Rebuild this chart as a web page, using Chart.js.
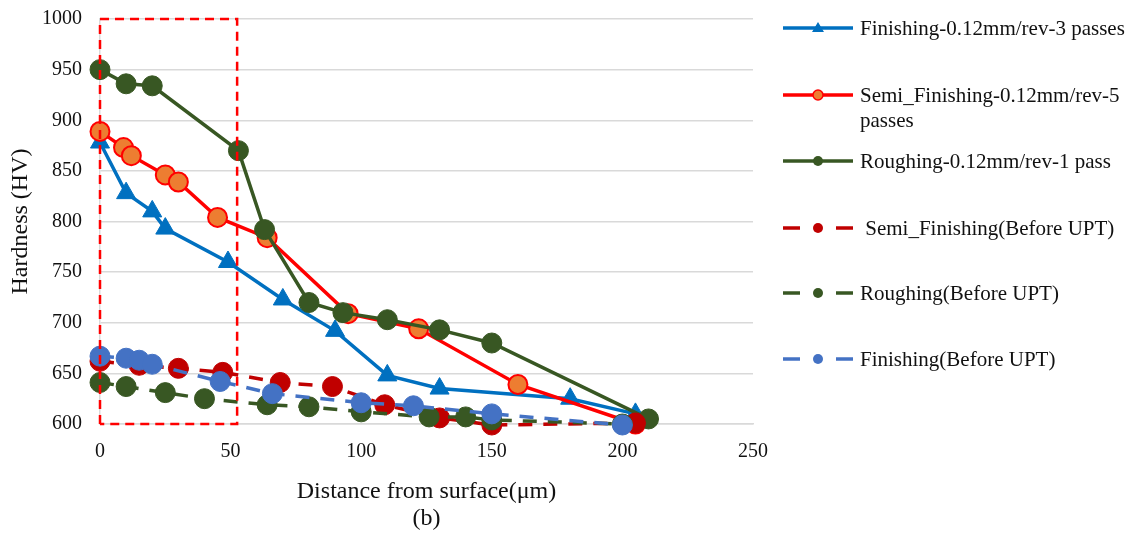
<!DOCTYPE html>
<html>
<head>
<meta charset="utf-8">
<script src="https://cdn.jsdelivr.net/npm/chart.js@4/dist/chart.umd.min.js"></script>
<style>
  body { margin: 0; background: #fff; }
  #wrap { position: relative; width: 1138px; height: 533px; }
  #legend { position: absolute; left: 0; top: 0; font-family: "Liberation Serif", serif; font-size: 21px; color: #111; }
  .item { position: absolute; left: 783px; }
  .item svg { position: absolute; left: 0; }
  .item span { position: absolute; left: 77px; white-space: nowrap; line-height: 25px; }
</style>
</head>
<body>
<div id="wrap">
  <canvas id="c" width="1138" height="533"></canvas>
  <div id="legend"></div>
</div>
<script>
// distances (µm) and hardness (HV)
const finX = [0, 10, 20, 25, 49, 70, 90, 110, 130, 180, 205];
const finY = [878, 828, 810, 793, 760, 723, 692, 648, 635, 625, 610];
const semiX = [0, 9, 12, 25, 30, 45, 64, 95, 122, 160, 205];
const semiY = [889, 873, 865, 846, 839, 804, 784, 709, 694, 639, 600];
const roughX = [0, 10, 20, 53, 63, 80, 93, 110, 130, 150, 210];
const roughY = [950, 936, 934, 870, 792, 720, 710, 703, 693, 680, 605];
const semiBeforeX = [0, 15, 30, 47, 69, 89, 109, 130, 150, 205];
const semiBeforeY = [662, 658, 655, 651, 641, 637, 619, 606, 599, 601];
const roughBeforeX = [0, 10, 25, 40, 64, 80, 100, 126, 140, 150, 200];
const roughBeforeY = [641, 637, 631, 625, 619, 617, 612, 607, 607, 604, 600];
const finBeforeX = [0, 10, 15, 20, 46, 66, 100, 120, 150, 200];
const finBeforeY = [667, 665, 663, 659, 642, 630, 621, 618, 610, 599];
// highlighted zone (dashed box)
const boxX = [0, 52.5];
const boxY = [600, 1000];

const xTicks = [0, 50, 100, 150, 200, 250];
const yTicks = [600, 650, 700, 750, 800, 850, 900, 950, 1000];

const seriesNames = [
    'Finishing-0.12mm/rev-3 passes',
    'Semi_Finishing-0.12mm/rev-5 passes',
    'Roughing-0.12mm/rev-1 pass',
    ' Semi_Finishing(Before UPT)',
    'Roughing(Before UPT)',
    'Finishing(Before UPT)'
];

function pts(xs, ys) {
    return xs.map((x, i) => ({ x: x, y: ys[i] }));
}

const FONT = 'Liberation Serif';

const datasets = [
    { label: seriesNames[0], data: pts(finX, finY), borderColor: '#0070C0', backgroundColor: '#0070C0',
      pointStyle: 'triangle', pointRadius: 11, borderWidth: 3.5, pointBorderWidth: 1, order: 6 },
    { label: seriesNames[1], data: pts(semiX, semiY), borderColor: '#FF0000', backgroundColor: '#ED7D31',
      pointBorderColor: '#FF0000', pointStyle: 'circle', pointRadius: 9.5, borderWidth: 3.5, pointBorderWidth: 2, order: 5 },
    { label: seriesNames[2], data: pts(roughX, roughY), borderColor: '#385723', backgroundColor: '#385723',
      pointStyle: 'circle', pointRadius: 10, borderWidth: 3.5, pointBorderWidth: 1, order: 4 },
    { label: seriesNames[3], data: pts(semiBeforeX, semiBeforeY), borderColor: '#C00000', backgroundColor: '#C00000',
      pointStyle: 'circle', pointRadius: 10, borderWidth: 3.5, borderDash: [14, 11], pointBorderWidth: 1, order: 3 },
    { label: seriesNames[4], data: pts(roughBeforeX, roughBeforeY), borderColor: '#385723', backgroundColor: '#385723',
      pointStyle: 'circle', pointRadius: 10, borderWidth: 3.5, borderDash: [14, 11], pointBorderWidth: 1, order: 2 },
    { label: seriesNames[5], data: pts(finBeforeX, finBeforeY), borderColor: '#4472C4', backgroundColor: '#4472C4',
      pointStyle: 'circle', pointRadius: 10, borderWidth: 3.5, borderDash: [14, 11], pointBorderWidth: 1, order: 1 },
    { label: 'box', data: [
        { x: boxX[0], y: boxY[0] }, { x: boxX[0], y: boxY[1] }, { x: boxX[1], y: boxY[1] },
        { x: boxX[1], y: boxY[0] }, { x: boxX[0], y: boxY[0] }],
      borderColor: '#FF0000', borderWidth: 2.5, borderDash: [9, 6], pointRadius: 0, order: 0 }
];
datasets.forEach(d => { d.tension = 0; d.fill = false; d.clip = false; });

new Chart(document.getElementById('c').getContext('2d'), {
    type: 'line',
    data: { datasets: datasets },
    options: {
        responsive: false,
        animation: false,
        layout: { autoPadding: false, padding: { top: 19, right: 385, left: 0, bottom: 0 } },
        plugins: { legend: { display: false }, tooltip: { enabled: false } },
        scales: {
            x: {
                type: 'linear', min: 0, max: 250,
                afterBuildTicks: s => { s.ticks = xTicks.map(v => ({ value: v })); },
                afterFit: s => { s.height = 109; },
                grid: { display: false, drawTicks: false },
                border: { display: true, color: '#d9d9d9', width: 1.5 },
                ticks: { padding: 16, color: '#111', font: { family: FONT, size: 20 }, callback: v => String(v) },
                title: { display: true, text: ['Distance from surface(\u03bcm)', '(b)'], color: '#111',
                         font: { family: FONT, size: 24, lineHeight: 1.125 }, padding: { top: 0, bottom: 1 } }
            },
            y: {
                min: 600, max: 1000,
                afterBuildTicks: s => { s.ticks = yTicks.map(v => ({ value: v })); },
                // tick padding would otherwise push the plot top down
                afterFit: s => { s.width = 100; s.paddingTop = 0; s.paddingBottom = 0; },
                grid: { color: '#d9d9d9', lineWidth: 1.5, drawTicks: false },
                border: { display: true, color: '#d9d9d9', width: 1.5 },
                ticks: { padding: 18, color: '#111', font: { family: FONT, size: 20 }, callback: v => String(v) },
                title: { display: true, text: 'Hardness (HV)', color: '#111',
                         font: { family: FONT, size: 24, lineHeight: 1.2 }, padding: { top: 6, bottom: 0 } }
            }
        }
    }
});

// legend on the right, built by hand so the long label can wrap like the original
const legendRows = [
    { y: 28, color: '#0070C0', dash: false, marker: 'tri', fill: '#0070C0', stroke: '#0070C0' },
    { y: 95, color: '#FF0000', dash: false, marker: 'dot', fill: '#ED7D31', stroke: '#FF0000' },
    { y: 161, color: '#385723', dash: false, marker: 'dot', fill: '#385723', stroke: '#385723' },
    { y: 228, color: '#C00000', dash: true, marker: 'dot', fill: '#C00000', stroke: '#C00000' },
    { y: 293, color: '#385723', dash: true, marker: 'dot', fill: '#385723', stroke: '#385723' },
    { y: 359, color: '#4472C4', dash: true, marker: 'dot', fill: '#4472C4', stroke: '#4472C4' }
];
const legendEl = document.getElementById('legend');
legendRows.forEach((r, i) => {
    const div = document.createElement('div');
    div.className = 'item';
    div.style.top = (r.y - 12) + 'px';
    let line;
    if (r.dash) {
        line = `<line x1="0" y1="12" x2="17" y2="12" stroke="${r.color}" stroke-width="3.5"/>` +
               `<line x1="53" y1="12" x2="70" y2="12" stroke="${r.color}" stroke-width="3.5"/>`;
    } else {
        line = `<line x1="0" y1="12" x2="70" y2="12" stroke="${r.color}" stroke-width="3.5"/>`;
    }
    const mark = r.marker === 'tri'
        ? `<polygon points="35,6 41,16 29,16" fill="${r.fill}"/>`
        : `<circle cx="35" cy="12" r="5" fill="${r.fill}" stroke="${r.stroke}" stroke-width="${r.fill === r.stroke ? 0 : 1.5}"/>`;
    const label = i === 1 ? 'Semi_Finishing-0.12mm/rev-5<br>passes' : seriesNames[i].replace(/^ /, '&nbsp;');
    div.innerHTML = `<svg width="70" height="24">${line}${mark}</svg><span style="top:0">${label}</span>`;
    legendEl.appendChild(div);
});
</script>
</body>
</html>
